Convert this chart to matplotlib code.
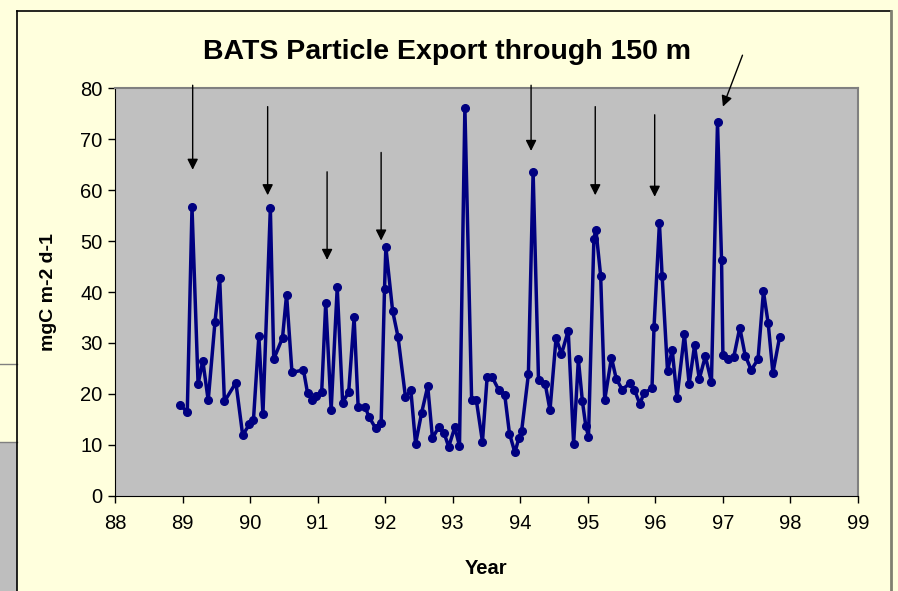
import matplotlib
matplotlib.use("Agg")
import matplotlib.pyplot as plt
from matplotlib.lines import Line2D
from matplotlib.patches import Rectangle

plt.rcParams["font.family"] = ["Liberation Sans", "DejaVu Sans"]

# BATS sediment trap flux, 150 m
years = [88.96, 89.07, 89.14, 89.23, 89.30, 89.38, 89.48, 89.55, 89.62, 89.79,
         89.89, 89.99, 90.05, 90.13, 90.19, 90.30, 90.35, 90.48, 90.54, 90.62,
         90.79, 90.85, 90.92, 90.98, 91.06, 91.12, 91.20, 91.29, 91.37, 91.46,
         91.54, 91.60, 91.70, 91.76, 91.86, 91.94, 91.99, 92.01, 92.11, 92.19,
         92.30, 92.38, 92.45, 92.54, 92.63, 92.70, 92.79, 92.87, 92.94, 93.03,
         93.10, 93.18, 93.28, 93.35, 93.44, 93.51, 93.58, 93.68, 93.77, 93.84,
         93.92, 93.98, 94.02, 94.12, 94.19, 94.27, 94.37, 94.44, 94.53, 94.61,
         94.71, 94.79, 94.86, 94.92, 94.97, 95.01, 95.09, 95.12, 95.19, 95.25,
         95.35, 95.42, 95.51, 95.62, 95.69, 95.77, 95.83, 95.95, 95.98, 96.06,
         96.10, 96.18, 96.25, 96.32, 96.43, 96.50, 96.58, 96.65, 96.74, 96.83,
         96.92, 96.98, 97.00, 97.08, 97.16, 97.25, 97.33, 97.42, 97.52, 97.60,
         97.67, 97.74, 97.84]
flux = [17.9, 16.4, 56.6, 21.9, 26.5, 18.7, 34.1, 42.7, 18.5, 22.2,
        11.9, 14.0, 14.9, 31.4, 16.0, 56.5, 26.8, 31.0, 39.5, 24.2,
        24.7, 20.2, 18.8, 19.6, 20.4, 37.9, 16.8, 40.9, 18.3, 20.4,
        35.0, 17.4, 17.5, 15.5, 13.2, 14.2, 40.5, 48.8, 36.3, 31.2,
        19.4, 20.7, 10.2, 16.3, 21.5, 11.3, 13.4, 12.4, 9.6, 13.4,
        9.8, 76.2, 18.7, 18.7, 10.6, 23.4, 23.4, 20.8, 19.8, 12.2,
        8.5, 11.3, 12.7, 23.8, 63.6, 22.7, 21.9, 16.8, 31.0, 27.8,
        32.4, 10.2, 26.8, 18.5, 13.7, 11.6, 50.5, 52.2, 43.2, 18.8,
        27.1, 23.0, 20.8, 22.1, 20.8, 18.0, 20.1, 21.1, 33.1, 53.5,
        43.2, 24.5, 28.6, 19.2, 31.7, 21.9, 29.5, 22.9, 27.4, 22.3,
        73.3, 46.2, 27.6, 26.8, 27.2, 33.0, 27.5, 24.7, 26.8, 40.1,
        33.9, 24.1, 31.2]

# arrows marking the spring blooms (start -> tip)
arrow_x0 = [89.15, 90.26, 91.14, 91.94, 94.16, 95.11, 95.99, 97.29]
arrow_y0 = [80.6, 76.4, 63.6, 67.4, 80.6, 76.4, 74.8, 86.5]
arrow_x1 = [89.15, 90.26, 91.14, 91.94, 94.16, 95.11, 95.99, 97.00]
arrow_y1 = [64.0, 59.0, 46.3, 50.1, 67.7, 59.0, 58.7, 76.4]

x_ticks = list(range(88, 100))
y_ticks = list(range(0, 90, 10))

bg = "#FFFFDD"
plot_bg = "#C0C0C0"
navy = "#000080"

fig = plt.figure(figsize=(8.98, 5.91), dpi=100, facecolor=bg)
W, H = 898.0, 591.0

# outer slide frame and leftovers of the slide behind it
fig.add_artist(Rectangle((0, 0), 16.5 / W, (H - 442) / H, transform=fig.transFigure,
                         facecolor="#BEBEBE", edgecolor="none"))
fig.add_artist(Line2D([0, 16.5 / W], [1 - 442 / H] * 2, transform=fig.transFigure,
                      color="#808080", lw=1))
fig.add_artist(Line2D([0, 16.5 / W], [1 - 364 / H] * 2, transform=fig.transFigure,
                      color="#808080", lw=1))
fig.add_artist(Line2D([16.5 / W, 891 / W], [1 - 10.5 / H] * 2, transform=fig.transFigure,
                      color="black", lw=1.2))
fig.add_artist(Line2D([16.5 / W] * 2, [0, 1 - 10.5 / H], transform=fig.transFigure,
                      color="black", lw=1.2))
fig.add_artist(Line2D([891 / W] * 2, [0, 1 - 10.5 / H], transform=fig.transFigure,
                      color="#808070", lw=2))

ax = fig.add_axes([115 / W, 1 - 495.7 / H, (858 - 115) / W, (495.7 - 88.3) / H])
ax.set_facecolor(plot_bg)

ax.plot(years, flux, color=navy, lw=2.5, marker="o", markersize=5.5,
        markerfacecolor=navy, markeredgecolor=navy, zorder=3)

for x0, y0, x1, y1 in zip(arrow_x0, arrow_y0, arrow_x1, arrow_y1):
    ax.annotate("", xy=(x1, y1), xytext=(x0, y0), annotation_clip=False,
                arrowprops=dict(arrowstyle="-|>", color="black", lw=1,
                                mutation_scale=16, shrinkA=0, shrinkB=0))

ax.set_xlim(88, 99)
ax.set_ylim(0, 80)
ax.set_xticks(x_ticks)
ax.set_yticks(y_ticks)
ax.tick_params(direction="out", length=5, width=1, colors="black",
               labelsize=14.5, pad=4)
ax.tick_params(axis="x", pad=8)

ax.spines["left"].set_color("black")
ax.spines["bottom"].set_color("black")
ax.spines["top"].set_color("#808080")
ax.spines["right"].set_color("#808080")
ax.spines["top"].set_linewidth(1.5)
ax.spines["right"].set_linewidth(1.5)

ax.set_xlabel("Year", fontsize=14.5, fontweight="bold", labelpad=19)
ax.set_ylabel("mgC m-2 d-1", fontsize=14, fontweight="bold", labelpad=17)

fig.text(447 / W, 1 - 52 / H, "BATS Particle Export through 150 m",
         ha="center", va="center", fontsize=20.5, fontweight="bold")

fig.savefig("out.png", dpi=100, facecolor=bg)
